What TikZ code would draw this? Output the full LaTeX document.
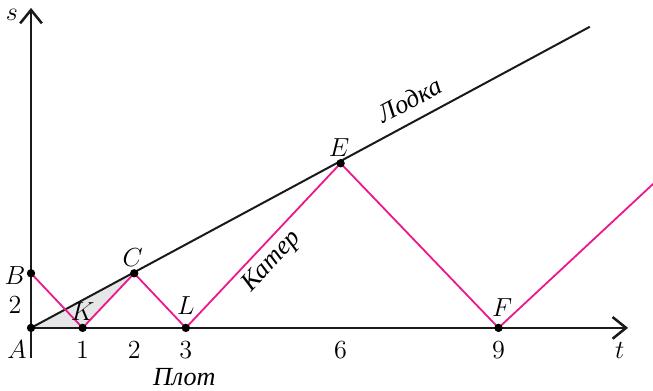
\documentclass[tikz,border=0pt]{standalone}
\usepackage{fontspec}
\usepackage{xcolor}
\usepackage{tikz}
\usetikzlibrary{arrows.meta}
\newfontfamily\cyrfont{Liberation Serif}
\definecolor{katerpink}{RGB}{236,24,140}
\definecolor{shadegray}{RGB}{230,230,230}
\definecolor{darkgray}{RGB}{26,26,26}

\begin{document}
\begin{tikzpicture}[x=1cm, y=0.5291cm,
  axis/.style={line width=1.2pt, darkgray, -{Straight Barb[length=2.6mm, width=4.2mm, line width=1.4pt]}},
  boat/.style={line width=1.1pt, darkgray},
  kater/.style={line width=1.0pt, katerpink},
  dot/.style={fill=black},
  lbl/.style={font=\Large, inner sep=0pt},
  word/.style={font=\Large\cyrfont\itshape, inner sep=0pt}]

\useasboundingbox (-0.601,-2.308) rectangle (12.054,12.01);

% points
\coordinate (A) at (0,0);
\coordinate (B) at (0,2);
\coordinate (K) at (1,0);
\coordinate (C) at (2,2);
\coordinate (L) at (3,0);
\coordinate (E) at (6,6.03);
\coordinate (F) at (9.06,0);
\coordinate (Fend) at (12.10,5.35);
\coordinate (Bend) at (10.83,11.03);
\coordinate (tend) at (11.57,0);
\coordinate (send) at (0,11.72);
\coordinate (sbot) at (0,-1.1);

\fill[shadegray] (A) -- (K) -- (C) -- cycle;

% axes
\draw[axis] (sbot) -- (send);
\draw[axis] (A) -- (tend);

% boat and kater
\draw[boat] (A) -- (Bend);
\draw[kater] (B) -- (K) -- (C) -- (L) -- (E) -- (F) -- (Fend);

\foreach \p in {A,B,K,C,L,E,F} \fill[dot] (\p) circle (2.3pt);

% labels
\node[lbl] (ls) at (-0.37,11.47) {$s$};
\node[lbl] (lt) at (11.41,-0.81) {$t$};
\node[lbl] (lA) at (-0.27,-0.81) {$A$};
\node[lbl] (lB) at (-0.31,1.92) {$B$};
\node[lbl] (l2) at (-0.31,0.84) {$2$};
\node[lbl] (lK) at (1.0,0.60) {$K$};
\node[lbl] (lC) at (1.97,2.56) {$C$};
\node[lbl] (lL) at (3.0,0.80) {$L$};
\node[lbl] (lE) at (5.97,6.62) {$E$};
\node[lbl] (lF) at (9.13,0.73) {$F$};
\node[lbl] (t1) at (1,-0.81) {1};
\node[lbl] (t2) at (2,-0.81) {2};
\node[lbl] (t3) at (3,-0.81) {3};
\node[lbl] (t6) at (6,-0.81) {6};
\node[lbl] (t9) at (9.06,-0.81) {9};

\node[word] (plot) at (2.97,-1.79) {Плот};
\node[word, rotate=47] (katr) at (4.67,2.42) {Катер};
\node[word, rotate=28] (lodka) at (7.34,8.35) {Лодка};

\end{tikzpicture}
\end{document}
